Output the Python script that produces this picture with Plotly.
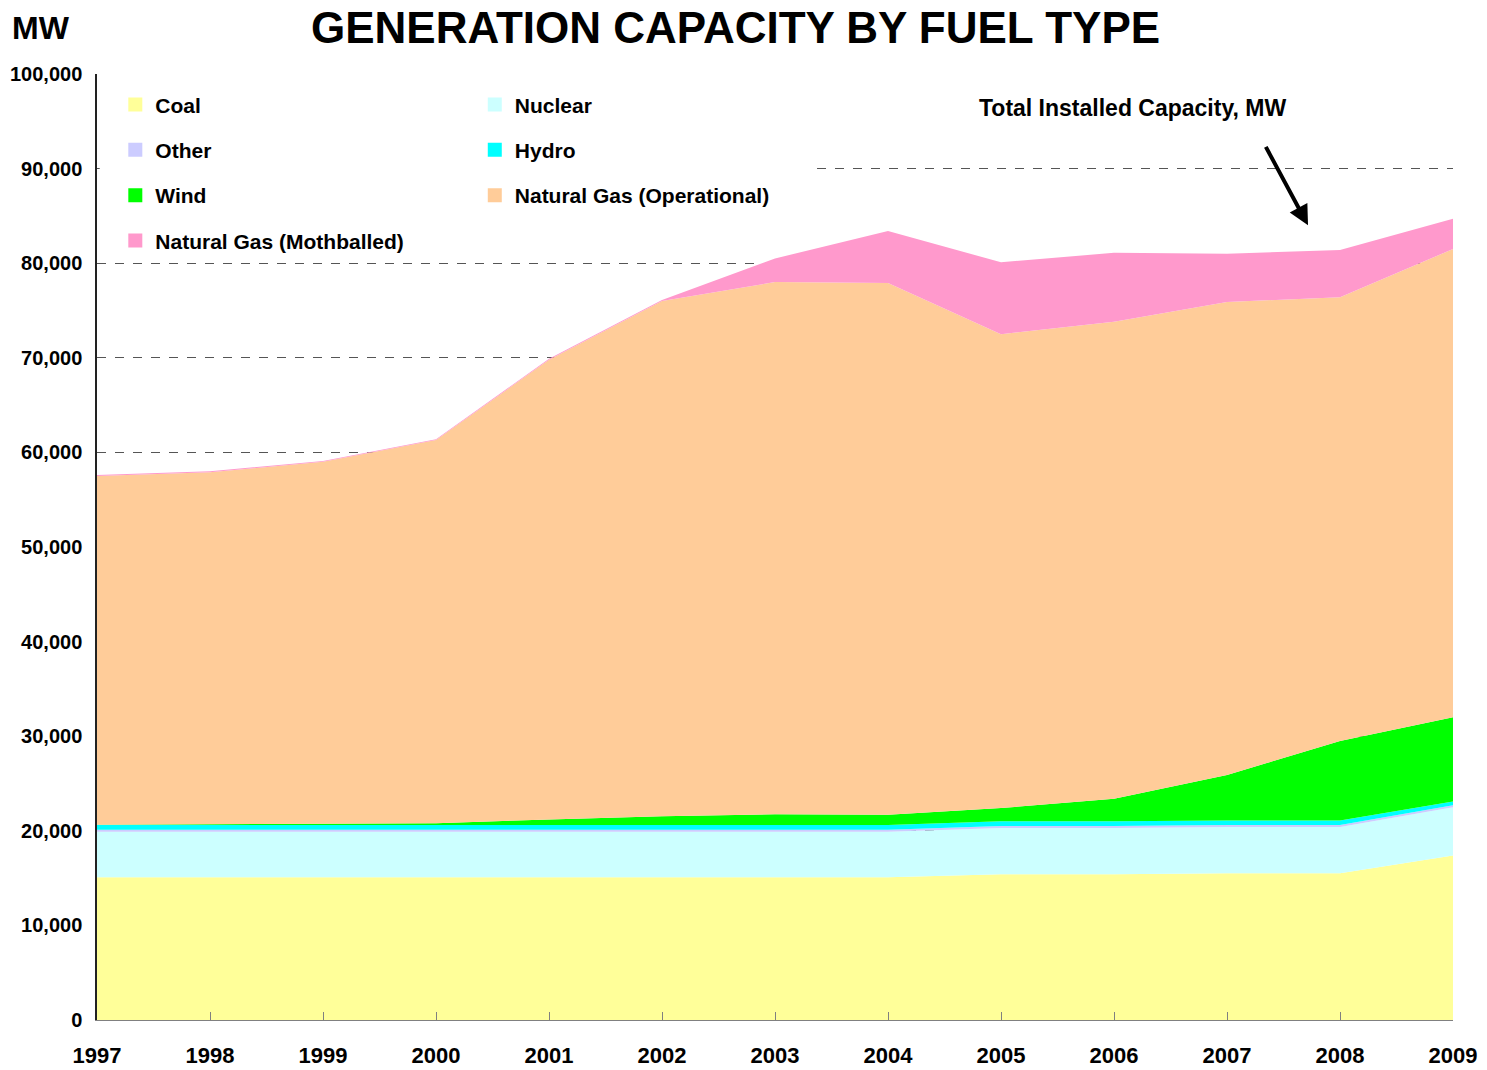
import plotly.graph_objects as go

years = [1997, 1998, 1999, 2000, 2001, 2002, 2003, 2004, 2005, 2006, 2007, 2008, 2009]
coal = [15100, 15100, 15100, 15100, 15100, 15100, 15100, 15100, 15400, 15400, 15500, 15500, 17400]
nuclear = [4800, 4800, 4800, 4800, 4800, 4800, 4800, 4800, 4900, 4900, 4900, 4900, 5100]
other = [200, 200, 200, 200, 200, 200, 200, 200, 200, 200, 200, 200, 200]
hydro = [500, 500, 500, 500, 500, 500, 500, 500, 500, 500, 500, 500, 400]
wind = [50, 100, 150, 200, 600, 950, 1150, 1100, 1400, 2400, 4800, 8400, 8900]
gas_operational = [36850, 37200, 38250, 40500, 48600, 54450, 56250, 56200, 50100, 50400, 50000, 46900, 49500]
gas_mothballed = [100, 100, 100, 100, 100, 100, 2500, 5500, 7600, 7300, 5100, 5000, 3200]

series = [
    ("Coal", coal, "#FFFF99", "legend"),
    ("Nuclear", nuclear, "#CCFFFF", "legend2"),
    ("Other", other, "#CCCCFF", "legend"),
    ("Hydro", hydro, "#00FFFF", "legend2"),
    ("Wind", wind, "#00FF00", "legend"),
    ("Natural Gas (Operational)", gas_operational, "#FFCC99", "legend2"),
    ("Natural Gas (Mothballed)", gas_mothballed, "#FF99CC", "legend"),
]

FONT = "Liberation Sans, Arial, sans-serif"

fig = go.Figure()
for name, vals, color, _ in series:
    fig.add_trace(go.Scatter(
        x=years, y=vals, name=name, mode="lines", stackgroup="one",
        line=dict(width=0, color=color), fillcolor=color, showlegend=False,
        hoverinfo="x+y+name",
    ))

# legend entries (square swatches), arranged in two columns
legend_order = ["Coal", "Other", "Wind", "Natural Gas (Mothballed)",
                "Nuclear", "Hydro", "Natural Gas (Operational)"]
lookup = {s[0]: s for s in series}
for name in legend_order:
    _, vals, color, leg = lookup[name]
    fig.add_trace(go.Scatter(
        x=[None], y=[None], name=name, mode="markers", legend=leg,
        legendgroup=name,
        marker=dict(symbol="square", size=14, color=color),
        showlegend=True,
    ))

legend_common = dict(
    font=dict(family=FONT, size=21, color="black", weight="bold"),
    bgcolor="rgba(0,0,0,0)", borderwidth=0, tracegroupgap=15,
    orientation="v", xanchor="left", yanchor="top", itemclick=False,
)

# the page body has an 8px margin, so the figure starts at (8, 8) on the page
fig.update_layout(
    width=1479, height=1062,
    margin=dict(l=89, r=34, t=66, b=50, autoexpand=False),
    paper_bgcolor="white", plot_bgcolor="white",
    title=dict(
        text="GENERATION CAPACITY BY FUEL TYPE",
        x=0.4919, xref="container", xanchor="center",
        y=0.996, yref="container", yanchor="top",
        font=dict(family=FONT, size=44, color="black", weight="bold"),
    ),
    legend=dict(x=0.0135, y=0.989, **legend_common),
    legend2=dict(x=0.2786, y=0.989, **legend_common),
    xaxis=dict(
        range=[1997, 2009], tickvals=years, ticktext=[str(y) for y in years],
        showgrid=False, zeroline=False, automargin=False,
        showline=True, linecolor="#808080", linewidth=1,
        ticks="inside", ticklen=8, tickcolor="#808080", tickwidth=1,
        tickfont=dict(family=FONT, size=22, color="black", weight="bold"),
        ticklabelstandoff=16,
    ),
    yaxis=dict(
        range=[0, 100000], dtick=10000, tickformat=",",
        showgrid=True, gridcolor="#555555", griddash="dash", gridwidth=1,
        zeroline=False, showline=True, linecolor="#222222", linewidth=1.5,
        ticks="", automargin=False,
        tickfont=dict(family=FONT, size=20, color="black", weight="bold"),
        ticklabelstandoff=9,
    ),
    shapes=[
        dict(type="rect", xref="paper", yref="paper", x0=0.002, x1=0.531,
             y0=0.85, y1=0.96, fillcolor="white", line=dict(width=0),
             layer="above"),
    ],
    annotations=[
        dict(text="MW", xref="paper", yref="paper", x=-0.0642, y=1.0486,
             xanchor="left", yanchor="middle", showarrow=False,
             font=dict(family=FONT, size=32, color="black", weight="bold")),
        dict(text="Total Installed Capacity, MW", xref="x", yref="y",
             x=2006.164, y=96400, xanchor="center", yanchor="middle",
             showarrow=False,
             font=dict(family=FONT, size=23, color="black", weight="bold")),
        dict(text="", xref="x", yref="y", x=2007.717, y=84000,
             ax=-43, ay=-80, showarrow=True, arrowhead=2, arrowsize=1,
             arrowwidth=4, arrowcolor="black", standoff=0),
    ],
    hovermode="x unified",
)

fig.write_html("out.html")
